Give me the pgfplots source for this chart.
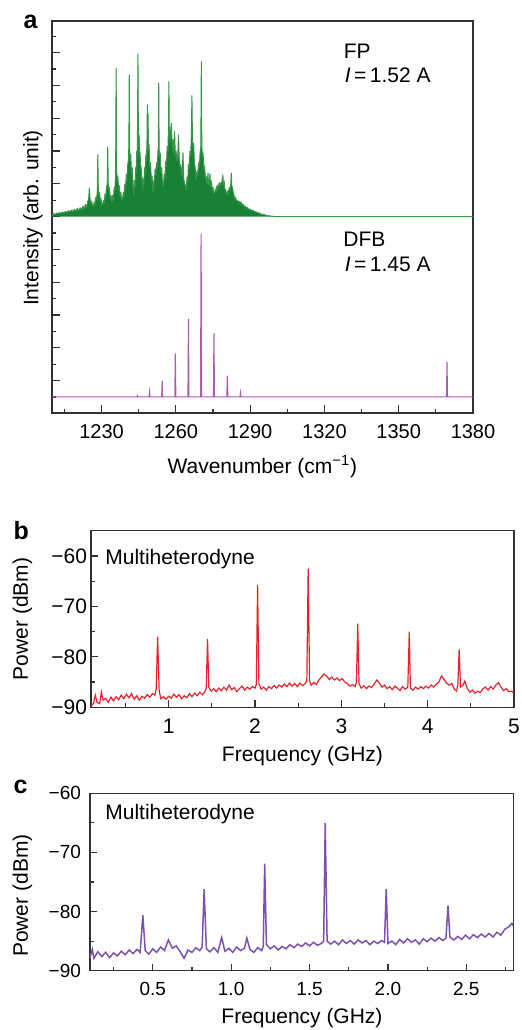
\documentclass[border=0pt]{standalone}
\usepackage{fontspec}
\setmainfont{Liberation Sans}
\usepackage{pgfplots}
\pgfplotsset{compat=1.18}

\definecolor{fpgreen}{RGB}{25,128,55}
\definecolor{fplight}{RGB}{55,150,72}
\definecolor{dfbpurple}{RGB}{172,92,172}
\definecolor{bred}{RGB}{230,35,45}
\definecolor{cpurple}{RGB}{125,82,175}
\definecolor{axisgray}{RGB}{50,50,50}

\newcommand{\lab}{\fontsize{10.5}{12.6}\selectfont}

\pgfplotsset{
  panel/.style={
    scale only axis, anchor=south west,
    axis line style={draw=axisgray, line width=0.6pt},
    tick style={draw=axisgray, line width=0.6pt},
    tick align=inside, tick pos=left,
    /pgf/number format/assume math mode=true,
    /pgf/number format/1000 sep={},
    major tick length=3.5pt, minor tick length=2pt,
  },
}

\begin{document}
\begin{tikzpicture}
\useasboundingbox (0,0) rectangle (260.5pt,515pt);

% ---------- a: FP and DFB spectra (FP shifted up by 11)
\begin{axis}[panel, at={(26pt,308.5pt)}, width=210.5pt, height=196pt,
  xmin=1210, xmax=1380, ymin=-0.98, ymax=22.93,
  xtick={1230,1260,...,1380}, minor xtick={1215,1245,...,1365},
  ytick={1,3,...,21}, minor ytick={0,2,...,22}, yticklabels={},
  major tick length=4pt,
  xticklabel style={font=\fontsize{10}{12}\selectfont, yshift=-2.2pt}]
\addplot[draw=fplight, fill=fpgreen, line width=0.5pt, line join=bevel] coordinates {
(1210,11) (1210,11.10) (1210.6,11.18) (1211.2,11.12) (1211.8,11.22) (1212.4,11.15)
(1213,11.25) (1213.6,11.18) (1214.2,11.28) (1214.8,11.20) (1215.4,11.32) (1216,11.24)
(1216.6,11.36) (1217.2,11.28) (1217.8,11.40) (1218.4,11.30) (1219,11.45) (1219.6,11.32)
(1220.2,11.50) (1220.8,11.35) (1221.4,11.55) (1222,11.40) (1222.5,11.65) (1223,11.45)
(1223.5,11.75) (1224,11.55) (1224.4,11.90) (1224.8,12.10) (1225.1,12.77) (1225.4,12.00)
(1225.7,11.80) (1226.0,11.95) (1226.4,11.60) (1226.8,11.70)
(1227.1,11.90) (1227.4,11.70) (1227.7,12.20) (1228.0,12.00) (1228.3,12.60) (1228.5,14.80)
(1228.7,12.50) (1228.9,12.30) (1229.2,12.50) (1229.5,11.90) (1229.8,12.10) (1230.1,11.70)
(1230.5,11.80)
(1230.8,12.00) (1231.1,11.80) (1231.4,12.40) (1231.7,12.10) (1232.0,12.80) (1232.3,13.00)
(1232.5,15.25) (1232.7,13.00) (1232.9,12.60) (1233.2,12.80) (1233.5,12.10) (1233.8,12.30)
(1234.2,11.90)
(1234.5,12.30) (1234.8,12.00) (1235.1,12.80) (1235.4,12.60) (1235.7,13.70) (1235.9,20.07)
(1236.1,13.80) (1236.3,13.20) (1236.6,13.50) (1236.9,12.60) (1237.2,12.90) (1237.5,12.20)
(1237.8,12.50) (1238.1,12.00) (1238.5,12.10)
(1238.8,12.50) (1239.1,12.20) (1239.4,13.00) (1239.7,12.70) (1240.0,13.60) (1240.3,13.20)
(1240.6,14.20) (1240.9,14.50) (1241.05,15.50) (1241.2,19.66) (1241.35,15.20) (1241.5,14.40)
(1241.8,14.80) (1242.1,13.60) (1242.4,14.00) (1242.7,12.90) (1243.0,12.30)
(1243.3,13.20) (1243.5,12.80) (1243.8,14.00) (1244.0,13.60) (1244.2,15.00) (1244.4,14.50)
(1244.55,16.50) (1244.7,20.94) (1244.85,16.80) (1245.0,15.20) (1245.2,16.00) (1245.4,14.60)
(1245.6,14.90) (1245.8,13.80) (1246.0,14.10) (1246.2,13.20) (1246.45,13.40) (1246.7,12.60)
(1246.9,13.30) (1247.1,13.00) (1247.4,14.00) (1247.6,13.60) (1247.9,14.80) (1248.1,14.40)
(1248.35,15.50) (1248.5,17.83) (1248.65,15.60) (1248.8,17.30) (1248.95,15.00) (1249.2,15.40)
(1249.5,14.00) (1249.8,14.30) (1250.1,13.20) (1250.4,13.50) (1250.8,12.50)
(1251.0,13.20) (1251.3,12.90) (1251.6,13.90) (1251.9,13.50) (1252.2,14.30) (1252.5,14.00)
(1252.8,15.00) (1252.95,15.30) (1253.1,19.15) (1253.25,15.20) (1253.45,14.60) (1253.7,14.90)
(1254.0,13.70) (1254.3,14.00) (1254.6,13.00) (1255.0,12.80)
(1255.3,13.60) (1255.6,13.30) (1255.9,14.40) (1256.2,14.00) (1256.5,15.30) (1256.8,15.00)
(1257.05,16.50) (1257.2,19.25) (1257.35,16.40) (1257.6,15.60) (1257.9,16.20) (1258.2,16.70)
(1258.5,15.30) (1258.8,15.70) (1259.1,14.90) (1259.5,16.20) (1259.8,14.70) (1260.1,15.00)
(1260.5,14.40) (1260.8,14.80) (1261.1,16.00) (1261.4,14.30) (1261.7,14.00) (1262.0,14.20)
(1262.3,13.50) (1262.6,13.70) (1262.9,14.90) (1263.2,13.30) (1263.6,13.00) (1263.9,12.90)
(1264.2,12.65)
(1264.5,13.40) (1264.8,13.10) (1265.1,14.20) (1265.4,13.90) (1265.7,15.00) (1266.0,14.70)
(1266.3,16.10) (1266.5,18.40) (1266.7,15.90) (1266.9,15.20) (1267.2,15.50) (1267.5,14.30)
(1267.8,14.00) (1268.0,13.60) (1268.3,13.25)
(1268.6,13.80) (1268.9,13.50) (1269.2,14.30) (1269.5,14.00) (1269.8,14.90) (1270.1,15.30)
(1270.3,20.47) (1270.5,15.40) (1270.7,14.60) (1271.0,14.90) (1271.3,13.90) (1271.6,14.10)
(1271.9,13.40) (1272.2,13.50) (1272.5,13.00) (1272.8,13.30) (1273.0,13.66) (1273.2,12.90)
(1273.5,13.10) (1273.8,13.60) (1274.0,12.80) (1274.4,13.20) (1274.7,12.60) (1275.0,12.80)
(1275.3,12.40) (1275.7,12.46)
(1276.0,12.70) (1276.3,12.50) (1276.6,12.90) (1276.9,12.60) (1277.2,13.00) (1277.5,12.80)
(1277.8,13.10) (1278.1,12.90) (1278.4,13.00) (1278.7,13.20) (1279.0,13.56) (1279.2,12.90)
(1279.5,13.20) (1279.8,12.60) (1280.1,12.70) (1280.4,12.40) (1280.7,12.30)
(1281.0,12.60) (1281.3,12.40) (1281.6,12.80) (1281.9,12.70) (1282.2,13.00) (1282.4,13.66)
(1282.6,12.90) (1282.9,12.70) (1283.2,12.50) (1283.5,12.30) (1283.8,12.10) (1284.1,12.20)
(1284.4,11.95) (1284.8,12.00) (1285.2,11.85) (1285.6,11.95) (1286.0,11.80) (1286.4,11.90)
(1286.8,11.70) (1287.2,11.75) (1287.6,11.60) (1288.0,11.65) (1288.5,11.50) (1289.0,11.55)
(1289.5,11.42) (1290.0,11.45) (1290.6,11.35) (1291.2,11.38) (1291.8,11.28) (1292.4,11.30)
(1293.0,11.22) (1293.6,11.22) (1294.2,11.16) (1295.0,11.14) (1296.0,11.10) (1297.0,11.06)
(1298.0,11.04) (1299.0,11.02) (1300.0,11.00) (1380,11.00)
};
\addplot[draw=dfbpurple, line width=0.55pt] coordinates {
(1210,0) (1244.3,0) (1244.5,0.08) (1244.7,0)
(1249.2,0) (1249.4,0.3) (1249.6,0)
(1254.3,0) (1254.5,0.98) (1254.7,0)
(1259.6,0) (1259.8,2.66) (1260.0,0)
(1264.9,0) (1265.1,4.76) (1265.3,0)
(1270.0,0) (1270.2,9.94) (1270.4,0)
(1275.2,0) (1275.4,3.88) (1275.6,0)
(1280.6,0) (1280.8,1.30) (1281.0,0)
(1285.9,0) (1286.1,0.25) (1286.3,0)
(1369.3,0) (1369.5,2.12) (1369.7,0) (1380,0)
};
\end{axis}

% ---------- b
\begin{axis}[panel, at={(45.5pt,161.35pt)}, width=211.5pt, height=88.3pt,
  xmin=0.1, xmax=5, ymin=-90, ymax=-55,
  xtick={1,2,3,4,5}, minor xtick={0.5,1.5,...,4.5},
  ytick={-90,-80,-70,-60}, yticklabels={−90,−80,−70,−60},
  minor ytick={-85,-75,-65},
  tick label style={font=\fontsize{10.5}{12.6}\selectfont},
  xticklabel style={yshift=-2.4pt}, yticklabel style={xshift=1.5pt}]
\addplot[draw=bred, line width=0.6pt] coordinates {
(0.10,-89.8) (0.13,-89.2) (0.15,-87.6) (0.17,-89.0) (0.20,-89.3) (0.22,-87.0)
(0.24,-88.6) (0.27,-88.2) (0.30,-89.0) (0.33,-88.0) (0.36,-88.7) (0.39,-87.9)
(0.42,-88.5) (0.45,-87.6) (0.48,-88.3) (0.51,-87.4) (0.54,-88.1) (0.57,-87.3)
(0.60,-88.4) (0.63,-87.7) (0.66,-88.6) (0.69,-87.8) (0.72,-88.2) (0.75,-87.5)
(0.78,-88.0) (0.81,-87.3) (0.84,-87.6) (0.855,-86.5) (0.872,-76.0) (0.89,-86.8)
(0.91,-88.3) (0.94,-87.9) (0.97,-88.4) (1.00,-87.8) (1.03,-88.2) (1.06,-87.4)
(1.09,-88.0) (1.12,-87.5) (1.15,-88.3) (1.18,-87.7) (1.21,-88.1) (1.24,-87.3)
(1.27,-87.9) (1.30,-87.2) (1.33,-87.7) (1.36,-87.0) (1.39,-87.5) (1.42,-86.9)
(1.435,-86.2) (1.45,-76.5) (1.465,-86.0) (1.49,-86.8) (1.52,-86.3) (1.55,-86.9)
(1.58,-86.2) (1.61,-86.7) (1.64,-86.0) (1.67,-86.6) (1.70,-85.6) (1.73,-86.5)
(1.76,-86.1) (1.79,-86.9) (1.82,-86.3) (1.85,-85.8) (1.88,-86.6) (1.91,-86.0)
(1.94,-86.4) (1.97,-85.9) (2.00,-86.2) (2.015,-85.5) (2.03,-65.8) (2.045,-85.3)
(2.07,-86.4) (2.10,-86.0) (2.13,-86.6) (2.16,-85.9) (2.19,-86.3) (2.22,-85.7)
(2.25,-86.2) (2.28,-85.6) (2.31,-86.0) (2.34,-85.4) (2.37,-85.9) (2.40,-85.2)
(2.43,-85.8) (2.46,-85.3) (2.49,-85.9) (2.52,-85.2) (2.55,-85.7) (2.58,-85.3)
(2.60,-84.8) (2.616,-62.5) (2.632,-84.8) (2.65,-85.6) (2.68,-85.1) (2.71,-85.5)
(2.74,-84.6) (2.77,-84.0) (2.80,-83.4) (2.83,-83.8) (2.86,-84.5) (2.89,-84.0)
(2.92,-84.6) (2.95,-84.2) (2.98,-84.7) (3.01,-84.3) (3.04,-85.0) (3.07,-85.3)
(3.10,-85.8) (3.13,-85.5) (3.16,-85.9) (3.175,-85.0) (3.19,-73.4) (3.205,-85.3)
(3.23,-86.2) (3.26,-85.7) (3.29,-86.3) (3.32,-85.8) (3.35,-86.1) (3.38,-85.4)
(3.41,-84.6) (3.44,-85.2) (3.47,-86.0) (3.50,-85.6) (3.53,-86.3) (3.56,-85.9)
(3.59,-86.5) (3.62,-85.8) (3.65,-86.2) (3.68,-86.7) (3.71,-85.9) (3.74,-86.4)
(3.77,-86.0) (3.787,-75.0) (3.80,-86.2) (3.83,-86.6) (3.86,-86.0) (3.89,-86.4)
(3.92,-85.9) (3.95,-86.3) (3.98,-85.8) (4.01,-86.2) (4.04,-85.6) (4.07,-86.0)
(4.10,-85.4) (4.13,-85.0) (4.16,-83.8) (4.19,-84.5) (4.22,-85.2) (4.25,-85.6)
(4.28,-85.3) (4.31,-86.4) (4.335,-86.8) (4.35,-85.5) (4.365,-78.5) (4.38,-86.0)
(4.41,-85.6) (4.43,-84.8) (4.46,-86.3) (4.49,-87.0) (4.52,-86.6) (4.55,-87.2)
(4.58,-86.8) (4.61,-87.1) (4.64,-86.3) (4.67,-86.0) (4.70,-86.6) (4.73,-85.9)
(4.76,-86.4) (4.79,-85.6) (4.82,-85.1) (4.85,-86.0) (4.88,-86.7) (4.91,-86.3)
(4.94,-86.9) (4.97,-86.8) (5.00,-87.2)
};
\end{axis}

% ---------- c
\begin{axis}[panel, at={(45pt,29.65pt)}, width=211.7pt, height=88.7pt,
  xmin=0.1, xmax=2.8, ymin=-90, ymax=-60,
  xtick={0.5,1.0,1.5,2.0,2.5}, xticklabels={0.5,1.0,1.5,2.0,2.5},
  minor xtick={0.25,0.75,1.25,1.75,2.25,2.75},
  ytick={-90,-80,-70,-60}, yticklabels={−90,−80,−70,−60},
  minor ytick={-85,-75,-65},
  tick label style={font=\fontsize{9.5}{11.4}\selectfont},
  xticklabel style={yshift=-2.2pt}, yticklabel style={xshift=-1pt}]
\addplot[draw=cpurple, line width=0.75pt] coordinates {
(0.100,-87.8) (0.115,-86.4) (0.125,-87.9) (0.150,-86.8) (0.175,-87.6)
(0.200,-86.9) (0.225,-87.8) (0.250,-87.0) (0.275,-87.5) (0.300,-86.7)
(0.325,-87.3) (0.350,-86.5) (0.375,-87.1) (0.400,-86.4) (0.420,-86.9)
(0.437,-80.6) (0.452,-86.6) (0.475,-87.2) (0.500,-86.3) (0.525,-86.9)
(0.550,-86.0) (0.575,-86.6) (0.600,-84.8) (0.625,-86.2) (0.650,-85.8)
(0.675,-86.8) (0.700,-87.9) (0.725,-86.5) (0.750,-86.9) (0.775,-86.1)
(0.800,-86.6) (0.815,-86.0) (0.828,-76.2) (0.842,-86.3) (0.865,-86.8)
(0.890,-86.1) (0.915,-86.9) (0.940,-84.4) (0.960,-86.7) (0.985,-86.2)
(1.010,-86.9) (1.035,-86.0) (1.060,-86.6) (1.085,-86.2) (1.100,-84.5)
(1.120,-86.4) (1.145,-86.9) (1.170,-86.1) (1.195,-86.6) (1.205,-85.8)
(1.214,-71.9) (1.225,-85.6) (1.250,-86.3) (1.275,-85.8) (1.300,-86.5)
(1.325,-85.9) (1.350,-86.3) (1.375,-85.6) (1.400,-86.1) (1.425,-85.5)
(1.450,-85.9) (1.475,-85.3) (1.500,-85.8) (1.525,-85.2) (1.550,-85.7)
(1.575,-85.4) (1.590,-85.0) (1.600,-65.0) (1.612,-85.0) (1.635,-85.5)
(1.660,-85.0) (1.685,-85.6) (1.710,-84.8) (1.735,-85.4) (1.760,-84.9)
(1.785,-85.5) (1.810,-84.8) (1.835,-85.3) (1.860,-84.9) (1.885,-85.6)
(1.910,-85.0) (1.935,-85.4) (1.960,-84.9) (1.978,-85.2) (1.989,-76.2)
(2.000,-85.4) (2.025,-85.0) (2.050,-85.6) (2.075,-84.7) (2.100,-85.3)
(2.125,-84.6) (2.150,-85.2) (2.175,-84.8) (2.200,-85.5) (2.225,-84.6)
(2.250,-85.1) (2.275,-84.5) (2.300,-85.0) (2.325,-84.4) (2.350,-84.9)
(2.370,-84.5) (2.383,-79.0) (2.395,-84.3) (2.420,-84.8) (2.445,-84.2)
(2.470,-84.7) (2.495,-84.0) (2.520,-84.6) (2.545,-83.9) (2.570,-84.4)
(2.595,-83.8) (2.620,-84.3) (2.645,-83.7) (2.670,-84.3) (2.695,-83.5)
(2.720,-84.0) (2.745,-83.0) (2.770,-82.6) (2.790,-82.0) (2.800,-82.4)
};
\end{axis}

% ---------- labels
\node[font=\fontsize{12.5}{15}\selectfont\bfseries, anchor=base west, inner sep=0pt] at (11.65pt,500.85pt) {a};
\node[font=\fontsize{12.5}{15}\selectfont\bfseries, anchor=base west, inner sep=0pt] at (6.65pt,245pt) {b};
\node[font=\fontsize{12.5}{15}\selectfont\bfseries, anchor=base west, inner sep=0pt] at (6.65pt,118.35pt) {c};

\node[font=\lab, anchor=base west, inner sep=0pt] at (171.7pt,485.9pt) {FP};
\node[font=\lab, anchor=base west, inner sep=0pt] at (172.2pt,473.7pt) {\textit{I}\,=\,1.52 A};
\node[font=\lab, anchor=base west, inner sep=0pt] at (171.5pt,391.7pt) {DFB};
\node[font=\lab, anchor=base west, inner sep=0pt] at (172.2pt,379.2pt) {\textit{I}\,=\,1.45 A};
\node[font=\lab, anchor=base west, inner sep=0pt] at (52.5pt,232.5pt) {Multiheterodyne};
\node[font=\lab, anchor=base west, inner sep=0pt] at (52.5pt,105pt) {Multiheterodyne};

\node[font=\lab, anchor=base, inner sep=0pt] at (131.2pt,278.3pt) {Wavenumber (cm\textsuperscript{−1})};
\node[font=\lab, rotate=90, inner sep=0pt] at (16.5pt,406pt) {Intensity (arb. unit)};
\node[font=\lab, anchor=base, inner sep=0pt] at (151.25pt,134pt) {Frequency (GHz)};
\node[font=\lab, rotate=90, inner sep=0pt] at (11.25pt,205.5pt) {Power (dBm)};
\node[font=\lab, anchor=base, inner sep=0pt] at (151pt,3.35pt) {Frequency (GHz)};
\node[font=\lab, rotate=90, inner sep=0pt] at (11.25pt,67.2pt) {Power (dBm)};
\end{tikzpicture}
\end{document}
